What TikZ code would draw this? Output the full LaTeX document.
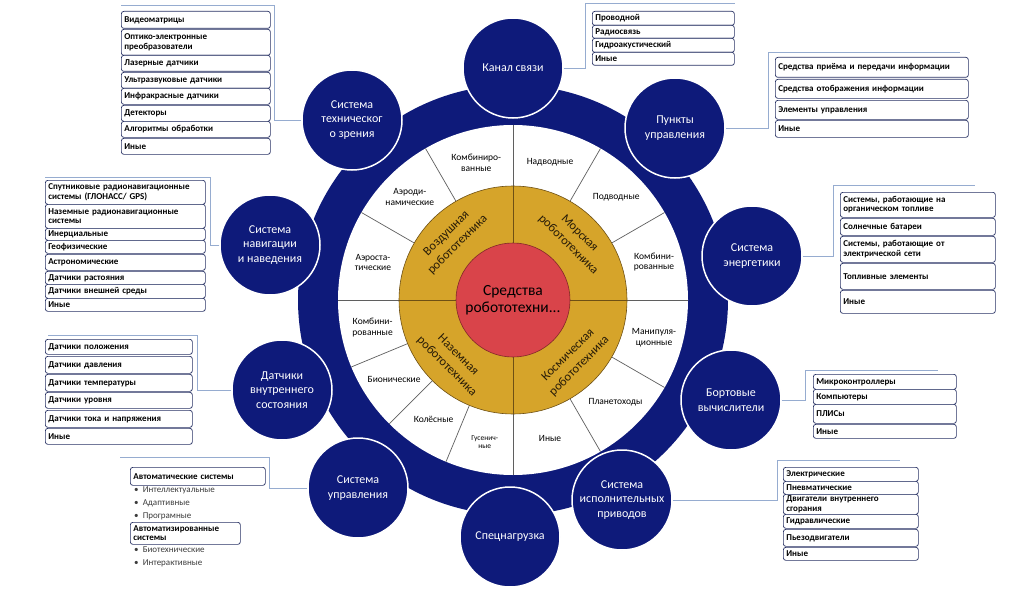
\documentclass[tikz,border=0pt]{standalone}
\usepackage{fontspec}
\setmainfont{Carlito}
\definecolor{navy}{RGB}{14,26,122}
\definecolor{goldc}{RGB}{214,164,42}
\definecolor{goldd}{RGB}{110,80,20}
\definecolor{redc}{RGB}{217,68,74}
\definecolor{redd}{RGB}{130,40,40}
\definecolor{boxline}{RGB}{40,50,100}
\definecolor{connc}{RGB}{150,172,208}
\definecolor{divc}{RGB}{95,95,95}
\definecolor{bulc}{RGB}{60,60,60}
\tikzset{
  bx/.style={draw=boxline, fill=white, rounded corners=2.5pt, line width=0.7pt,
    inner xsep=3pt, inner ysep=0pt, anchor=north west, align=left,
    font=\bfseries\fontsize{9}{9.5}\selectfont},
  conn/.style={draw=connc, line width=0.8pt},
  sat/.style={circle, fill=navy, draw=white, line width=1.5pt, minimum size=100,
    inner sep=0pt, text=white, align=center, font=\fontsize{12}{14.5}\selectfont},
  wl/.style={align=center, font=\fontsize{9.5}{10.5}\selectfont, inner sep=0pt},
  gl/.style={align=center, font=\fontsize{12.5}{16}\selectfont, inner sep=0pt, text={rgb,255:red,40;green,28;blue,8}},
  bul/.style={anchor=west, inner sep=0pt, text=bulc, font=\fontsize{9}{10}\selectfont},
  divl/.style={draw=divc, line width=0.7pt}
}
\newcommand\lb[6]{\node[bx, text width=#5, minimum height=#4] (#1) at (#2,#3) {#6};}
\begin{document}
\begin{tikzpicture}[x=1pt,y=-1pt]
\useasboundingbox (0,0) rectangle (1031,594);
\fill[white] (0,0) rectangle (1031,594);

% ---------- wheel ----------
\begin{scope}[shift={(513,300)},x=1pt,y=1pt]
  \fill[navy] (0,0) circle (215);
  \fill[white] (0,0) circle (175);
  \foreach \a in {0,30,60,90,120,150,180,202.5,225,247.5,270,300,330}
    \draw[divl] (\a:113) -- (\a:175);
  \node[circle, fill=goldc, draw=goldd, line width=0.6pt, minimum size=228, inner sep=0pt] (gold) at (0,0) {};
  \draw[goldd, line width=0.7pt] (-114,0) -- (114,0) (0,-114) -- (0,114);
  \node[circle, fill=redc, draw=redd, line width=0.6pt, minimum size=114, inner sep=0pt,
        align=center, font=\fontsize{15.5}{17.5}\selectfont] (core) at (0,0) {Средства\\робототехни...};
  % gold labels
  \node[gl, rotate=45] (air) at (135:86) {Воздушная\\робототехника};
  \node[gl, rotate=-45] (sea) at (45:86) {Морская\\робототехника};
  \node[gl, rotate=-45] (grd) at (225:86) {Наземная\\робототехника};
  \node[gl, rotate=45] (spc) at (315:86) {Космическая\\робототехника};
  % white ring labels
  \node[wl] (w1) at (105:142) {Комбиниро-\\ванные};
  \node[wl] (w2) at (135:146) {Аэроди-\\намические};
  \node[wl] (w3) at (165:145) {Аэроста-\\тические};
  \node[wl] (w4) at (75:143) {Надводные};
  \node[wl] (w5) at (45:146) {Подводные};
  \node[wl] (w6) at (15:146) {Комбини-\\рованные};
  \node[wl] (w7) at (191:143) {Комбини-\\рованные};
  \node[wl] (w8) at (213.75:143) {Бионические};
  \node[wl] (w9) at (236.25:143) {Колёсные};
  \node[wl, font=\fontsize{7.5}{8.5}\selectfont] (w10) at (258.75:145) {Гусенич-\\ные};
  \node[wl] (w11) at (-15:146) {Манипуля-\\ционные};
  \node[wl] (w12) at (-45:145) {Планетоходы};
  \node[wl] (w13) at (-75:143) {Иные};
\end{scope}

% ---------- satellites ----------
\node[sat] (sKC) at (513,68) {Канал связи};
\node[sat] (sPU) at (675,128) {Пункты\\управления};
\node[sat] (sEN) at (752,256) {Система\\энергетики};
\node[sat] (sBV) at (731,400) {Бортовые\\вычислители};
\node[sat] (sIP) at (622,500) {Система\\исполнительных\\приводов};
\node[sat] (sSP) at (510,537) {Спецнагрузка};
\node[sat] (sSU) at (358,488) {Система\\управления};
\node[sat] (sDS) at (282,390) {Датчики\\внутреннего\\состояния};
\node[sat] (sNV) at (270,245) {Система\\навигации\\и наведения};
\node[sat] (sTZ) at (352,120) {Система\\техническог\\о зрения};

% ---------- connectors ----------
\coordinate (cTZa) at (274,5);   \coordinate (cTZb) at (121,5);
\coordinate (cNVa) at (210,177); \coordinate (cNVb) at (45,177);
\coordinate (cDSa) at (197,335); \coordinate (cDSb) at (48,335);
\coordinate (cSUa) at (269,457); \coordinate (cSUb) at (120,457);
\coordinate (cKCa) at (585,3);   \coordinate (cKCb) at (735,3);
\coordinate (cPUa) at (768,52);  \coordinate (cPUb) at (960,52);
\coordinate (cENa) at (833,185); \coordinate (cENb) at (975,185);
\coordinate (cBVa) at (805,370); \coordinate (cBVb) at (938,370);
\coordinate (cIPa) at (777,460); \coordinate (cIPb) at (900,460);
\draw[conn] (sTZ.west) -| (cTZa) -- (cTZb);
\draw[conn] (sNV.west) -| (cNVa) -- (cNVb);
\draw[conn] (sDS.west) -| (cDSa) -- (cDSb);
\draw[conn] (sSU.west) -| (cSUa) -- (cSUb);
\draw[conn] (sKC.east) -| (cKCa) -- (cKCb);
\draw[conn] (sPU.east) -| (cPUa) -- (cPUb);
\draw[conn] (sEN.east) -| (cENa) -- (cENb);
\draw[conn] (sBV.east) -| (cBVa) -- (cBVb);
\draw[conn] (sIP.east) -| (cIPa) -- (cIPb);

% ---------- lists ----------
% техническое зрение
\lb{tz1}{121}{11}{17}{143}{Видеоматрицы}
\lb{tz2}{121}{29}{26}{143}{Оптико-электронные\\преобразователи}
\lb{tz3}{121}{55}{16}{143}{Лазерные датчики}
\lb{tz4}{121}{72}{16}{143}{Ультразвуковые датчики}
\lb{tz5}{121}{88}{16}{143}{Инфракрасные датчики}
\lb{tz6}{121}{105}{16}{143}{Детекторы}
\lb{tz7}{121}{121}{16}{143}{Алгоритмы обработки}
\lb{tz8}{121}{138}{16}{143}{Иные}
% навигация
\lb{nv1}{45}{180}{24}{154}{Спутниковые радионавигационные\\системы (ГЛОНАСС/ GPS)}
\lb{nv2}{45}{204}{24}{154}{Наземные радионавигационные\\системы}
\lb{nv3}{45}{228}{12}{154}{Инерциальные}
\lb{nv4}{45}{240}{13}{154}{Геофизические}
\lb{nv5}{45}{254}{16}{154}{Астрономические}
\lb{nv6}{45}{271}{13}{154}{Датчики растояния}
\lb{nv7}{45}{284}{14}{154}{Датчики внешней среды}
\lb{nv8}{45}{298}{13}{154}{Иные}
% датчики
\lb{ds1}{45}{339}{15}{141}{Датчики положения}
\lb{ds2}{45}{356}{17}{141}{Датчики давления}
\lb{ds3}{45}{374}{17}{141}{Датчики температуры}
\lb{ds4}{45}{392}{16}{141}{Датчики уровня}
\lb{ds5}{45}{410}{17}{141}{Датчики тока и напряжения}
\lb{ds6}{45}{428}{16}{141}{Иные}
% система управления
\lb{su1}{130}{467}{18}{129}{Автоматические системы}
\node[bul] (b1) at (134,490) {•\ \ Интеллектуальные};
\node[bul] (b2) at (134,503) {•\ \ Адаптивные};
\node[bul] (b3) at (134,516) {•\ \ Програмные};
\lb{su2}{130}{522}{22}{104}{Автоматизированные\\системы}
\node[bul] (b4) at (134,550) {•\ \ Биотехнические};
\node[bul] (b5) at (134,563) {•\ \ Интерактивные};
% канал связи
\lb{kc1}{592}{11}{14}{136}{Проводной}
\lb{kc2}{592}{25}{13}{136}{Радиосвязь}
\lb{kc3}{592}{38}{14}{136}{Гидроакустический}
\lb{kc4}{592}{52}{13}{136}{Иные}
% пункты управления
\lb{pu1}{775}{57}{20}{187}{Средства приёма и передачи информации}
\lb{pu2}{775}{79}{19}{187}{Средства отображения информации}
\lb{pu3}{775}{100}{19}{187}{Элементы управления}
\lb{pu4}{775}{120}{17}{187}{Иные}
% энергетика
\lb{en1}{840}{192}{25}{149}{Системы, работающие на\\органическом топливе}
\lb{en2}{840}{218}{17}{149}{Солнечные батареи}
\lb{en3}{840}{236}{26}{149}{Системы, работающие от\\электрической сети}
\lb{en4}{840}{263}{26}{149}{Топливные элементы}
\lb{en5}{840}{290}{23}{149}{Иные}
% бортовые вычислители
\lb{bv1}{813}{374}{15}{137}{Микроконтроллеры}
\lb{bv2}{813}{389}{15}{137}{Компьютеры}
\lb{bv3}{813}{404}{19}{137}{ПЛИСы}
\lb{bv4}{813}{424}{14}{137}{Иные}
% исполнительные приводы
\lb{ip1}{783}{467}{14}{129}{Электрические}
\lb{ip2}{783}{481}{13}{129}{Пневматические}
\lb{ip3}{783}{494}{20}{129}{Двигатели внутреннего\\сгорания}
\lb{ip4}{783}{514}{14}{129}{Гидравлические}
\lb{ip5}{783}{529}{17}{129}{Пьезодвигатели}
\lb{ip6}{783}{547}{13}{129}{Иные}
\end{tikzpicture}
\end{document}
